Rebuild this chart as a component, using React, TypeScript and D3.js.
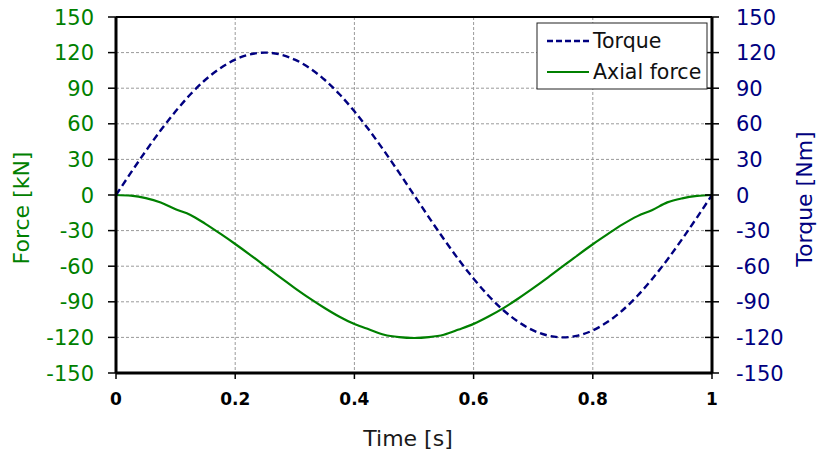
import React from "react";
import * as d3 from "d3";

const timeValues = [0, 0.025, 0.05, 0.075, 0.1, 0.125, 0.15, 0.175, 0.2, 0.225, 0.25, 0.275, 0.3, 0.325, 0.35, 0.375, 0.4, 0.425, 0.45, 0.475, 0.5, 0.525, 0.55, 0.575, 0.6, 0.625, 0.65, 0.675, 0.7, 0.725, 0.75, 0.775, 0.8, 0.825, 0.85, 0.875, 0.9, 0.925, 0.95, 0.975, 1];
const torqueValues = [0, 18.8, 37.1, 54.5, 70.5, 84.9, 97.1, 106.9, 114.1, 118.5, 120, 118.5, 114.1, 106.9, 97.1, 84.9, 70.5, 54.5, 37.1, 18.8, 0, -18.8, -37.1, -54.5, -70.5, -84.9, -97.1, -106.9, -114.1, -118.5, -120, -118.5, -114.1, -106.9, -97.1, -84.9, -70.5, -54.5, -37.1, -18.8, 0];
const axialValues = [0, -0.6, -2.6, -6.3, -12.0, -16.8, -24.3, -32.6, -41.3, -50.4, -59.8, -69.3, -78.4, -87.1, -95.2, -102.6, -108.8, -113.4, -117.8, -119.8, -120.5, -119.8, -117.8, -113.4, -108.6, -102.4, -95.3, -87.2, -78.5, -69.4, -60.0, -50.6, -41.5, -33.0, -24.8, -17.8, -12.6, -6.2, -2.8, -0.8, 0];
const yTicks = [-150, -120, -90, -60, -30, 0, 30, 60, 90, 120, 150];
const xTicks = [0, 0.2, 0.4, 0.6, 0.8, 1];
const xTickLabels = ["0", "0.2", "0.4", "0.6", "0.8", "1"];

const GREEN = "#008000";
const NAVY = "#000080";
const FONT = "'DejaVu Sans', Verdana, sans-serif";

export default function App() {
  const W = 819, H = 454;
  const L = 116, R = 712, T = 17, B = 373;
  const x = d3.scaleLinear().domain([0, 1]).range([L, R]);
  const yF = d3.scaleLinear().domain([-150, 150]).range([B, T]);
  const yT = d3.scaleLinear().domain([-150, 150]).range([B, T]);

  const torqueLine = d3.line<number>().x((_, i) => x(timeValues[i])).y((d) => yT(d)).curve(d3.curveMonotoneX);
  const axialLine = d3.line<number>().x((_, i) => x(timeValues[i])).y((d) => yF(d)).curve(d3.curveMonotoneX);

  return (
    <svg width={W} height={H} style={{ position: "absolute", left: 0, top: 0, background: "#fff" }} fontFamily={FONT}>
      <rect x={0} y={0} width={W} height={H} fill="#fff" />
      {yTicks.slice(1, -1).map((t) => (
        <line key={"gy" + t} x1={L} x2={R} y1={yF(t)} y2={yF(t)} stroke="#9a9a9a" strokeWidth={1} strokeDasharray="3,2" />
      ))}
      {xTicks.slice(1, -1).map((t) => (
        <line key={"gx" + t} x1={x(t)} x2={x(t)} y1={T} y2={B} stroke="#9a9a9a" strokeWidth={1} strokeDasharray="3,2" />
      ))}
      <path d={axialLine(axialValues) || ""} fill="none" stroke={GREEN} strokeWidth={2.2} />
      <path d={torqueLine(torqueValues) || ""} fill="none" stroke={NAVY} strokeWidth={2.4} strokeDasharray="7,4" />
      <line x1={L} x2={R} y1={T} y2={T} stroke="#000" strokeWidth={2} />
      <line x1={L} x2={R} y1={B} y2={B} stroke="#000" strokeWidth={3} />
      <line x1={L} x2={L} y1={T} y2={B} stroke="#000" strokeWidth={3} />
      <line x1={R} x2={R} y1={T} y2={B} stroke="#000" strokeWidth={3} />
      {yTicks.map((t) => (
        <g key={"ly" + t}>
          <line x1={L - 8} x2={L} y1={yF(t)} y2={yF(t)} stroke="#000" strokeWidth={1.5} />
          <text x={L - 22} y={yF(t)} dy="0.36em" textAnchor="end" fill={GREEN} fontSize={21}>{t}</text>
        </g>
      ))}
      {yTicks.map((t) => (
        <g key={"ry" + t}>
          <line x1={R - 7} x2={R + 7} y1={yT(t)} y2={yT(t)} stroke="#000" strokeWidth={1.5} />
          <text x={R + 24} y={yT(t)} dy="0.36em" textAnchor="start" fill={NAVY} fontSize={21}>{t}</text>
        </g>
      ))}
      {xTicks.map((t, i) => (
        <g key={"xt" + t}>
          <line x1={x(t)} x2={x(t)} y1={B} y2={B + 6} stroke="#000" strokeWidth={1.5} />
          <text x={x(t)} y={B + 32} textAnchor="middle" fill="#000" fontSize={17} fontWeight="bold">{xTickLabels[i]}</text>
        </g>
      ))}
      <text x={408} y={446} textAnchor="middle" fill="#1a1a1a" fontSize={22}>Time [s]</text>
      <text transform={`translate(29,${(T + B) / 2 + 13}) rotate(-90)`} textAnchor="middle" fill={GREEN} fontSize={22}>Force [kN]</text>
      <text transform={`translate(812,${(T + B) / 2 + 4}) rotate(-90)`} textAnchor="middle" fill={NAVY} fontSize={22}>Torque [Nm]</text>
      <rect x={537} y={23} width={170} height={66} fill="#fff" stroke="#222" strokeWidth={1} />
      <line x1={547} x2={589} y1={41} y2={41} stroke={NAVY} strokeWidth={2.4} strokeDasharray="6,3" />
      <text x={593} y={41} dy="0.36em" fill="#111" fontSize={20.5}>Torque</text>
      <line x1={547} x2={589} y1={72} y2={72} stroke={GREEN} strokeWidth={2.2} />
      <text x={593} y={72} dy="0.36em" fill="#111" fontSize={20.5}>Axial force</text>
    </svg>
  );
}
